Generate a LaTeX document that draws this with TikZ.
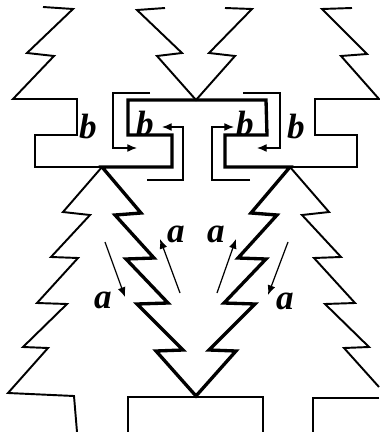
\documentclass[tikz,border=0pt]{standalone}
\usepackage{fontspec}
\setmainfont{Liberation Serif}
\usetikzlibrary{arrows.meta}
\tikzset{
	wall/.style={line width=1.1pt, line join=miter, draw=black},
	grainwall/.style={line width=1.9pt, line join=miter, draw=black},
	flux/.style={-{Latex[length=5.5pt, width=4.5pt]}, line width=0.7pt, draw=black},
	lbl/.style={inner sep=0pt, font=\fontsize{20}{20}\selectfont\bfseries\itshape},
}

\begin{document}
\begin{tikzpicture}[x=0.02cm, y=-0.02cm]
	\useasboundingbox (0,0) rectangle (379,432);
	% upper row
	\draw[wall] (43,7) -- (73,9) -- (27,53) -- (54,56) -- (13,99) -- (77,99) -- (77,135) -- (35,135) -- (35,167) -- (102,167);
	\draw[wall] (165,8) -- (137,10) -- (182,53) -- (157,56) -- (196,100) -- (235,56) -- (209,53) -- (252,9) -- (225,8);
	\draw[wall] (352,8) -- (322,9) -- (367,54) -- (341,56) -- (379,99) -- (315,99) -- (315,135) -- (357,135) -- (357,167) -- (290,167);
	% lower row
	\draw[wall] (102,167) -- (63,212) -- (90,215) -- (51,257) -- (78,258) -- (37,303) -- (67,304) -- (23,347) -- (48,348) -- (8,393) -- (74,396) -- (77,432);
	\draw[wall] (290,167) -- (329,212) -- (302,215) -- (341,257) -- (314,258) -- (355,303) -- (325,304) -- (369,347) -- (344,348) -- (379,387);
	\draw[wall] (379,398) -- (313,398) -- (313,432);
	\draw[wall] (128,432) -- (128,397) -- (263,397) -- (263,432);
	% central grain
	\draw[grainwall] (102,167) -- (141,213) -- (115,215) -- (154,258) -- (126,259) -- (168,303) -- (137,304) -- (183,350) -- (156,351) -- (196,396)
		-- (236,351) -- (209,350) -- (255,304) -- (224,303) -- (266,259) -- (238,258) -- (277,215) -- (251,213) -- (290,167)
		-- (225,167) -- (225,135) -- (267,135) -- (266,100) -- (128,100) -- (128,135) -- (172,135) -- (172,167) -- cycle;
	% b fluxes
	\coordinate (bOLs) at (150,93);  \coordinate (bOLe) at (137,148);
	\coordinate (bORs) at (243,93);  \coordinate (bORe) at (257,148);
	\coordinate (bILs) at (147,180); \coordinate (bILe) at (162,127);
	\coordinate (bIRs) at (250,180); \coordinate (bIRe) at (234,127);
	\draw[flux] (bOLs) -- (113,93) |- (bOLe);
	\draw[flux] (bORs) -- (280,93) |- (bORe);
	\draw[flux] (bILs) -- (183,180) |- (bILe);
	\draw[flux] (bIRs) -- (212,180) |- (bIRe);
	% a fluxes
	\coordinate (aOLs) at (105,242); \coordinate (aOLe) at (125,297);
	\coordinate (aILs) at (180,293); \coordinate (aILe) at (160,239);
	\coordinate (aIRs) at (217,293); \coordinate (aIRe) at (236,239);
	\coordinate (aORs) at (288,242); \coordinate (aORe) at (268,295);
	\foreach \s/\e in {aOLs/aOLe,aILs/aILe,aIRs/aIRe,aORs/aORe}{\draw[flux] (\s) -- (\e);}
	% labels
	\node[lbl] (bOL) at (88,127) {b};
	\node[lbl] (bIL) at (145,124) {b};
	\node[lbl] (bIR) at (245,124) {b};
	\node[lbl] (bOR) at (296,127) {b};
	\node[lbl] (aOL) at (103,300) {a};
	\node[lbl] (aIL) at (176,234) {a};
	\node[lbl] (aIR) at (216,234) {a};
	\node[lbl] (aOR) at (285,301) {a};
\end{tikzpicture}
\end{document}
